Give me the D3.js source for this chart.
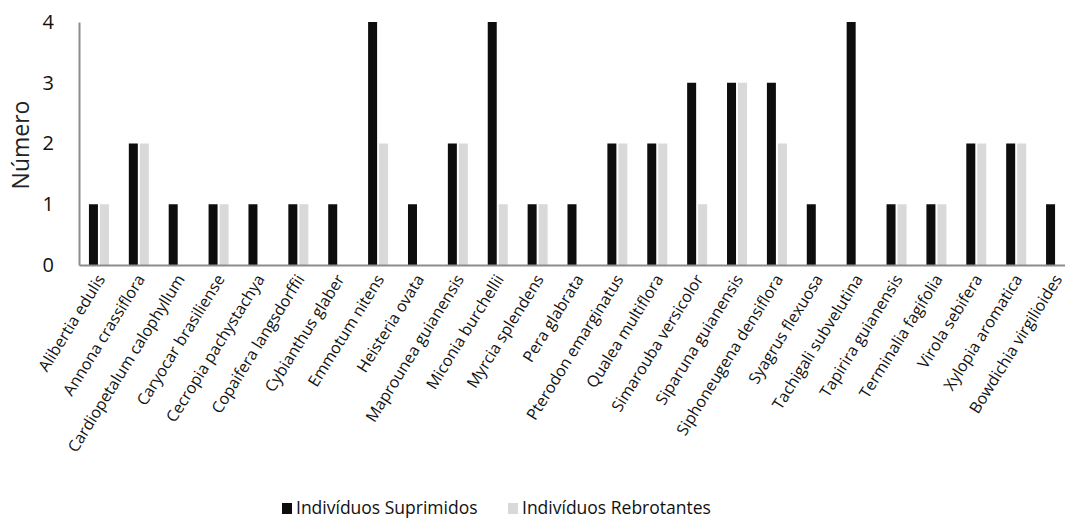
<!DOCTYPE html>
<html><head><meta charset="utf-8">
<script src="https://cdn.jsdelivr.net/npm/d3@7"></script>
<style>body{margin:0;background:#fff}svg{display:block;font-family:"Open Sans",sans-serif}</style>
</head><body><svg id="c" width="1065" height="521"></svg>
<script>
const categories = ["Alibertia edulis","Annona crassiflora","Cardiopetalum calophyllum","Caryocar brasiliense","Cecropia pachystachya","Copaifera langsdorffii","Cybianthus glaber","Emmotum nitens","Heisteria ovata","Maprounea guianensis","Miconia burchellii","Myrcia splendens","Pera glabrata","Pterodon emarginatus","Qualea multiflora","Simarouba versicolor","Siparuna guianensis","Siphoneugena densiflora","Syagrus flexuosa","Tachigali subvelutina","Tapirira guianensis","Terminalia fagifolia","Virola sebifera","Xylopia aromatica","Bowdichia virgilioides"];
const suprimidos = [1,2,1,1,1,1,1,4,1,2,4,1,1,2,2,3,3,3,1,4,1,1,2,2,1];
const rebrotantes = [1,2,0,1,0,1,0,2,0,2,1,1,0,2,2,1,3,2,0,0,1,1,2,2,0];
const seriesNames = ["Indivíduos Suprimidos","Indivíduos Rebrotantes"];
const seriesColors = ["#0d0d0d","#d9d9d9"];
const yTicks = [0,1,2,3,4];

(function(){
const svg = d3.select("#c");
const mLeft = 79, mRight = 1076, mTop = 22, mBottom = 265;
const x0 = d3.scaleBand().domain(categories).range([mLeft, mRight]).padding(0);
const bw = x0.bandwidth();
const x1 = d3.scaleBand().domain(seriesNames).range([bw/2 - 10, bw/2 + 10]).paddingInner(2/11);
const y = d3.scaleLinear().domain([0,4]).range([mBottom, mTop]);
const color = d3.scaleOrdinal().domain(seriesNames).range(seriesColors);

const data = categories.map((c,i)=>({c, vals:[{s:seriesNames[0],v:suprimidos[i]},{s:seriesNames[1],v:rebrotantes[i]}]}));

const g = svg.append("g").selectAll("g").data(data).join("g")
  .attr("transform", d=>`translate(${x0(d.c)},0)`);
g.selectAll("rect").data(d=>d.vals.filter(e=>e.v>0)).join("rect")
  .attr("x", d=>x1(d.s)).attr("width", x1.bandwidth())
  .attr("y", d=>y(d.v)).attr("height", d=>y(0)-y(d.v))
  .attr("fill", d=>color(d.s));

const ya = svg.append("g").attr("transform",`translate(${mLeft},0)`)
  .call(d3.axisLeft(y).tickValues(yTicks).tickSize(0).tickPadding(25).tickFormat(d3.format("d")));
ya.select(".domain").attr("stroke","#8c8c8c").attr("stroke-width",2);
ya.selectAll("text").attr("font-size",20).attr("fill","#111").attr("font-family","Open Sans");

const xa = svg.append("g").attr("transform",`translate(0,${mBottom})`)
  .call(d3.axisBottom(x0).tickSize(0));
xa.select(".domain").attr("stroke","#8c8c8c").attr("stroke-width",2);
xa.selectAll("text").attr("font-size",16).attr("fill","#111").attr("font-family","Open Sans")
  .attr("text-anchor","end").attr("y",0).attr("dy","0.35em")
  .attr("transform","translate(2,11) rotate(-58)");

svg.append("text").attr("transform","translate(29,145) rotate(-90)")
  .attr("text-anchor","middle").attr("font-size",23).attr("fill","#222").text("Número");

const lx = [282, 508];
const lg = svg.append("g").selectAll("g").data(seriesNames).join("g")
  .attr("transform",(d,i)=>`translate(${lx[i]},503)`);
lg.append("rect").attr("width",10).attr("height",11).attr("fill",d=>color(d));
lg.append("text").attr("x",14).attr("y",11).attr("font-size",17.5).attr("fill","#111").text(d=>d);
})();
</script></body></html>
